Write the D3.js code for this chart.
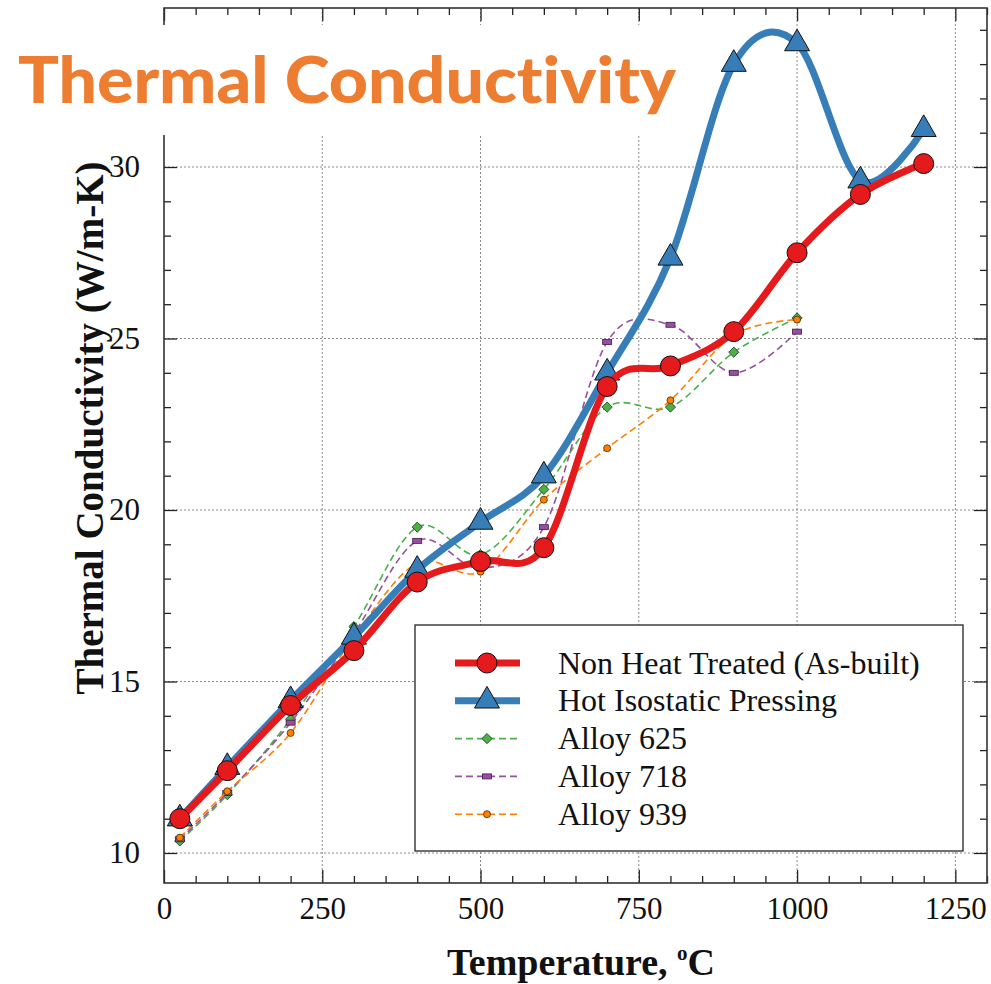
<!DOCTYPE html>
<html>
<head>
<meta charset="utf-8">
<script src="https://cdn.jsdelivr.net/npm/d3@7"></script>
<style>
  html, body { margin: 0; padding: 0; background: #fff; }
  svg { display: block; }
  text { font-variant-ligatures: none; }
</style>
</head>
<body>
<script>
// ---------------- data ----------------
const temps = [25, 100, 200, 300, 400, 500, 600, 700, 800, 900, 1000, 1100, 1200];
const nonHeatTreated = [11.0, 12.4, 14.3, 15.9, 17.9, 18.5, 18.9, 23.6, 24.2, 25.2, 27.5, 29.2, 30.1];
const hotIsostatic   = [11.0, 12.5, 14.45, 16.3, 18.25, 19.65, 21.0, 24.0, 27.35, 33.0, 33.6, 29.6, 31.1];
const alloyTemps = [25, 100, 200, 300, 400, 500, 600, 700, 800, 900, 1000];
const alloy625 = [10.35, 11.7, 13.9, 16.6, 19.5, 18.7, 20.6, 23.0, 23.0, 24.6, 25.6];
const alloy718 = [10.4, 11.75, 13.8, 16.4, 19.1, 18.3, 19.5, 24.9, 25.4, 24.0, 25.2];
const alloy939 = [10.45, 11.8, 13.5, 16.3, 18.45, 18.2, 20.3, 21.8, 23.2, 25.1, 25.55];
const xTicks = [0, 250, 500, 750, 1000, 1250];
const yTicks = [10, 15, 20, 25, 30];
const legendLabels = ["Non Heat Treated (As-built)", "Hot Isostatic Pressing", "Alloy 625", "Alloy 718", "Alloy 939"];
const titleText = "Thermal Conductivity";
const xTitle = "Temperature, ";
const yTitle = "Thermal Conductivity (W/m-K)";

// ---------------- layout ----------------
const W = 991, H = 984;
const plot = { left: 164, right: 987, top: 8, bottom: 883 };
const serif = "'Liberation Serif', 'Times New Roman', serif";

const x = d3.scaleLinear().domain([0, 1300]).range([plot.left, plot.right]);
const y = d3.scaleLinear().domain([9.125, 34.636]).range([plot.bottom, plot.top]);

const svg = d3.select("body").append("svg").attr("width", W).attr("height", H);

// grid
const grid = svg.append("g");
grid.selectAll("line.gx").data(xTicks.filter(t => t > 0)).join("line")
  .attr("x1", d => x(d)).attr("x2", d => x(d))
  .attr("y1", plot.top).attr("y2", plot.bottom)
  .attr("stroke", "#8a8a8a").attr("stroke-width", 1).attr("stroke-dasharray", "2,2");
grid.selectAll("line.gy").data(yTicks).join("line")
  .attr("x1", plot.left).attr("x2", plot.right)
  .attr("y1", d => y(d)).attr("y2", d => y(d))
  .attr("stroke", "#8a8a8a").attr("stroke-width", 1).attr("stroke-dasharray", "2,2");

// axes via d3 axis generators (inward ticks)
const xMinor = d3.range(0, 1301, 50).filter(v => v % 250 !== 0);
const yMinor = d3.range(10, 35, 1).filter(v => v % 5 !== 0);

function styleAxis(g) {
  g.select(".domain").remove();
  g.selectAll(".tick line").attr("stroke", "#222").attr("stroke-width", 1.3);
}
// bottom
svg.append("g").attr("transform", `translate(0,${plot.bottom})`)
  .call(d3.axisBottom(x).tickValues(xTicks).tickSize(-13).tickPadding(30).tickFormat(d3.format("d")))
  .call(styleAxis)
  .call(g => g.selectAll(".tick text").attr("font-family", serif).attr("font-size", 31).attr("fill", "#111").attr("dy", "0.2em"));
svg.append("g").attr("transform", `translate(0,${plot.bottom})`)
  .call(d3.axisBottom(x).tickValues(xMinor).tickSize(-7).tickFormat(""))
  .call(styleAxis);
// top
svg.append("g").attr("transform", `translate(0,${plot.top})`)
  .call(d3.axisTop(x).tickValues(xTicks).tickSize(-13).tickFormat(""))
  .call(styleAxis);
svg.append("g").attr("transform", `translate(0,${plot.top})`)
  .call(d3.axisTop(x).tickValues(xMinor).tickSize(-7).tickFormat(""))
  .call(styleAxis);
// left
svg.append("g").attr("transform", `translate(${plot.left},0)`)
  .call(d3.axisLeft(y).tickValues(yTicks).tickSize(-13).tickPadding(24).tickFormat(d3.format("d")))
  .call(styleAxis)
  .call(g => g.selectAll(".tick text").attr("font-family", serif).attr("font-size", 31).attr("fill", "#111"));
svg.append("g").attr("transform", `translate(${plot.left},0)`)
  .call(d3.axisLeft(y).tickValues(yMinor).tickSize(-7).tickFormat(""))
  .call(styleAxis);
// right
svg.append("g").attr("transform", `translate(${plot.right},0)`)
  .call(d3.axisRight(y).tickValues(yTicks).tickSize(-13).tickFormat(""))
  .call(styleAxis);
svg.append("g").attr("transform", `translate(${plot.right},0)`)
  .call(d3.axisRight(y).tickValues(yMinor).tickSize(-7).tickFormat(""))
  .call(styleAxis);

// frame
svg.append("rect").attr("x", plot.left).attr("y", plot.top)
  .attr("width", plot.right - plot.left).attr("height", plot.bottom - plot.top)
  .attr("fill", "none").attr("stroke", "#333").attr("stroke-width", 1.6);

// ---------------- series ----------------
const curve = d3.curveCardinal.tension(0);
const lineGen = d3.line().x(d => x(d[0])).y(d => y(d[1])).curve(curve);
const zip = (xs, ys) => xs.map((t, i) => [t, ys[i]]);

const diamondPath = d3.symbol().type(d3.symbolSquare).size(52)();
const markers = {
  diamond: (g, fill) => g.append("path").attr("d", diamondPath).attr("transform", "rotate(45)")
    .attr("fill", fill).attr("stroke", "#1e3d1e").attr("stroke-width", 0.8),
  rect: (g, fill) => g.append("rect").attr("x", -4.5).attr("y", -2.5).attr("width", 9).attr("height", 5)
    .attr("fill", fill).attr("stroke", "#3a1d3e").attr("stroke-width", 0.8),
  dot: (g, fill) => g.append("circle").attr("r", 3.5)
    .attr("fill", fill).attr("stroke", "#4a2a00").attr("stroke-width", 0.8),
  triangle: (g, fill) => g.append("path").attr("d", d3.symbol().type(d3.symbolTriangle).size(270)())
    .attr("fill", fill).attr("stroke", "#111").attr("stroke-width", 1),
  circle: (g, fill) => g.append("circle").attr("r", 10)
    .attr("fill", fill).attr("stroke", "#111").attr("stroke-width", 1)
};

const series = [
  { name: legendLabels[2], xs: alloyTemps, ys: alloy625, color: "#4daf4a", width: 1.6, dash: "7,4", marker: "diamond" },
  { name: legendLabels[3], xs: alloyTemps, ys: alloy718, color: "#984ea3", width: 1.6, dash: "7,4", marker: "rect" },
  { name: legendLabels[4], xs: alloyTemps, ys: alloy939, color: "#ff7f00", width: 1.6, dash: "7,4", marker: "dot" },
  { name: legendLabels[1], xs: temps, ys: hotIsostatic, color: "#377eb8", width: 7, dash: null, marker: "triangle" },
  { name: legendLabels[0], xs: temps, ys: nonHeatTreated, color: "#e41a1c", width: 7, dash: null, marker: "circle" }
];

series.forEach(s => {
  const pts = zip(s.xs, s.ys);
  const g = svg.append("g");
  g.append("path").datum(pts).attr("d", lineGen)
    .attr("fill", "none").attr("stroke", s.color).attr("stroke-width", s.width)
    .attr("stroke-dasharray", s.dash).attr("stroke-linecap", s.dash ? "butt" : "round");
  g.selectAll("g.m").data(pts).join("g")
    .attr("transform", d => `translate(${x(d[0])},${y(d[1])})`)
    .each(function () { markers[s.marker](d3.select(this), s.color); });
});

// ---------------- title (with white backing) ----------------
svg.append("rect").attr("x", 0).attr("y", 25).attr("width", 700).attr("height", 110).attr("fill", "#fff");
svg.append("text").attr("x", 18).attr("y", 103)
  .attr("font-family", "Lato, 'Open Sans', sans-serif").attr("font-weight", 900)
  .attr("font-size", 64).attr("fill", "#ed7d31")
  .style("font-variant-ligatures", "none").style("font-feature-settings", "'liga' 0, 'clig' 0")
  .attr("textLength", 658).attr("lengthAdjust", "spacingAndGlyphs")
  .text(titleText);

// ---------------- axis titles ----------------
const xt = svg.append("text").attr("x", 581).attr("y", 975).attr("text-anchor", "middle")
  .attr("font-family", serif).attr("font-weight", 700).attr("font-size", 38).attr("fill", "#111");
xt.append("tspan").text(xTitle);
xt.append("tspan").attr("font-size", 21).attr("dy", -15).text("o");
xt.append("tspan").attr("dy", 15).text("C");

svg.append("text").attr("transform", "translate(103,428) rotate(-90)").attr("text-anchor", "middle")
  .attr("font-family", serif).attr("font-weight", 700).attr("font-size", 39).attr("fill", "#111")
  .text(yTitle);

// ---------------- legend ----------------
const lg = svg.append("g");
lg.append("rect").attr("x", 415).attr("y", 625).attr("width", 548).attr("height", 226)
  .attr("fill", "#fff").attr("stroke", "#333").attr("stroke-width", 1.4);
const legendOrder = [series[4], series[3], series[0], series[1], series[2]];
legendOrder.forEach((s, i) => {
  const cy = 663 + i * 37.8;
  const row = lg.append("g").attr("transform", `translate(0,${cy})`);
  row.append("line").attr("x1", 455).attr("x2", 520).attr("y1", 0).attr("y2", 0)
    .attr("stroke", s.color).attr("stroke-width", s.width).attr("stroke-dasharray", s.dash);
  const mg = row.append("g").attr("transform", "translate(487,0)");
  markers[s.marker](mg, s.color);
  row.append("text").attr("x", 558).attr("y", 0).attr("dy", "0.33em")
    .attr("font-family", serif).attr("font-size", 32).attr("fill", "#111").text(s.name);
});
</script>
</body>
</html>
